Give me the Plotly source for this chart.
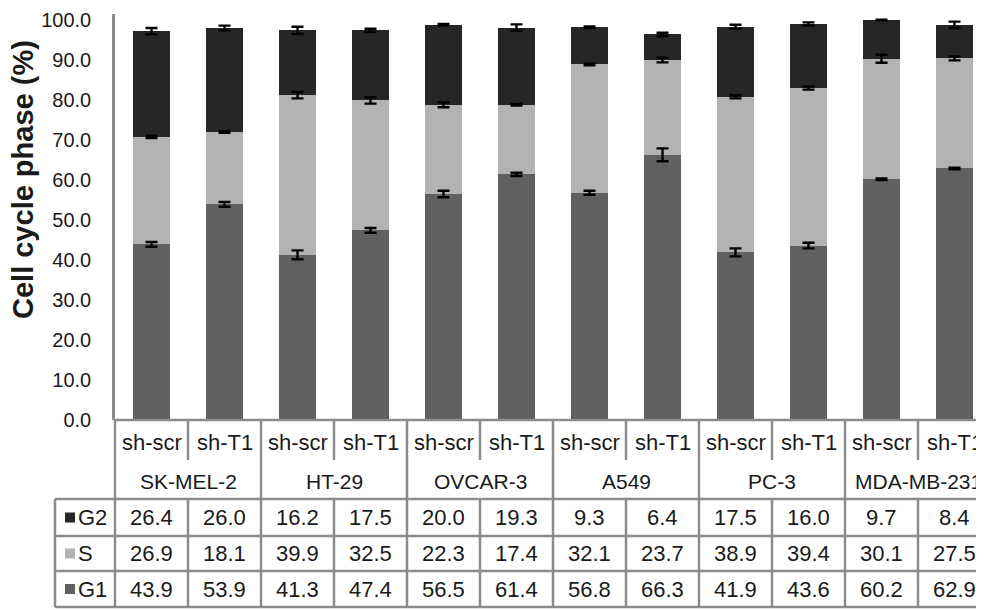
import plotly.graph_objects as go
import numpy as np

# ---------------- data ----------------
cell_lines = ["SK-MEL-2", "HT-29", "OVCAR-3", "A549", "PC-3", "MDA-MB-231"]
conditions = ["sh-scr", "sh-T1"]
phases = ["G2", "S", "G1"]

G1 = [43.9, 53.9, 41.3, 47.4, 56.5, 61.4, 56.8, 66.3, 41.9, 43.6, 60.2, 62.9]
S = [26.9, 18.1, 39.9, 32.5, 22.3, 17.4, 32.1, 23.7, 38.9, 39.4, 30.1, 27.5]
G2 = [26.4, 26.0, 16.2, 17.5, 20.0, 19.3, 9.3, 6.4, 17.5, 16.0, 9.7, 8.4]

G1_err = [0.6, 0.6, 1.1, 0.6, 0.8, 0.4, 0.5, 1.6, 1.0, 0.7, 0.2, 0.2]
S_err = [0.3, 0.2, 0.8, 0.8, 0.6, 0.2, 0.2, 0.6, 0.4, 0.4, 1.0, 0.5]
G2_err = [0.8, 0.6, 0.9, 0.4, 0.2, 0.8, 0.2, 0.4, 0.5, 0.4, 0.1, 0.8]

y_ticks = [0, 10, 20, 30, 40, 50, 60, 70, 80, 90, 100]

# ---------------- style / geometry (screen pixels) ----------------
FONT = "Arial, Liberation Sans, sans-serif"
C_G1, C_S, C_G2 = "#606060", "#b3b3b3", "#262626"
GRID = "#8c8c8c"
TXT = "#1a1a1a"

OFF = 8                      # default body margin of the html page
W, H = 984 - OFF, 610 - OFF
X0, X1 = 115, 984            # plot area left/right on screen
Y_TOP, Y_BOT = 14, 420       # plot area top/bottom on screen
Y_MAX = 100 * (Y_BOT - Y_TOP) / 400.0   # 4 px per unit
ML = X0 - OFF
MR = max(0, (OFF + W) - X1)
MT = Y_TOP - OFF
MB = (OFF + H) - Y_BOT
PW = X1 - X0
PH = Y_BOT - Y_TOP
SLOT = 73.0
XMIN = -0.5
XMAX = XMIN + PW / SLOT

n = len(G1)
xs = list(range(n))


def xp(v):  # data x -> paper x
    return (v - XMIN) / (XMAX - XMIN)


def pxx(p):  # screen x -> paper x
    return (p - X0) / PW


def pxy(p):  # screen y -> paper y
    return (Y_BOT - p) / PH


fig = go.Figure()
for name, vals, col in [("G1", G1, C_G1), ("S", S, C_S), ("G2", G2, C_G2)]:
    fig.add_trace(go.Bar(x=xs, y=vals, name=name, marker=dict(color=col, line=dict(width=0)),
                         width=0.51, showlegend=False, hoverinfo="skip"))

# error bars drawn on top of the stacked segments
cum = np.zeros(n)
for vals, errs in [(G1, G1_err), (S, S_err), (G2, G2_err)]:
    cum = cum + np.array(vals)
    fig.add_trace(go.Scatter(x=xs, y=cum.round(2).tolist(), mode="markers",
                             marker=dict(size=1, color="rgba(0,0,0,0)"),
                             error_y=dict(type="data", array=errs, visible=True,
                                          color="black", thickness=2.4, width=6),
                             showlegend=False, hoverinfo="skip"))

fig.update_layout(
    barmode="stack",
    width=W, height=H,
    margin=dict(l=ML, r=MR, t=MT, b=MB, pad=0, autoexpand=False),
    plot_bgcolor="white", paper_bgcolor="white",
    font=dict(family=FONT, color=TXT),
    xaxis=dict(range=[XMIN, XMAX], showticklabels=False, showgrid=False, zeroline=False,
               showline=False, ticks=""),
    yaxis=dict(range=[0, Y_MAX], tickvals=y_ticks, ticktext=[f"{v:.1f}" for v in y_ticks],
               showgrid=False, zeroline=False, showline=True, linecolor=GRID, linewidth=2.5,
               ticks="outside", ticklen=17, tickcolor="rgba(0,0,0,0)", automargin=False,
               tickfont=dict(size=20, color=TXT, family=FONT)),
)

# y axis title
fig.add_annotation(text="<b>Cell cycle phase (%)</b>", xref="paper", yref="paper",
                   x=pxx(23), y=pxy(180), textangle=-90, showarrow=False,
                   font=dict(size=29, color=TXT, family=FONT), xanchor="center", yanchor="middle")

# ---------------- table ----------------
y_top = 0.0
y_sub = pxy(460)
y_tab = pxy(499)
row_bounds = [pxy(499), pxy(536), pxy(571), pxy(607)]
x_left = pxx(55)
x_right = 1.02

shapes = []


def hline(y, x0, x1):
    shapes.append(dict(type="line", xref="paper", yref="paper", x0=x0, x1=x1, y0=y, y1=y,
                       line=dict(color=GRID, width=2.5), layer="above"))


def vline(x, y0, y1):
    shapes.append(dict(type="line", xref="paper", yref="paper", x0=x, x1=x, y0=y0, y1=y1,
                       line=dict(color=GRID, width=2.5), layer="above"))


hline(y_top, 0, x_right)
for yb in row_bounds:
    hline(yb, x_left, x_right)
vline(x_left, row_bounds[0], row_bounds[-1])
for g in range(len(cell_lines) + 1):
    vline(xp(XMIN + 2 * g), y_top, row_bounds[-1])
for g in range(len(cell_lines)):
    xb = xp(XMIN + 2 * g + 1)
    vline(xb, y_top, y_sub)
    vline(xb, y_tab, row_bounds[-1])

ann_font = dict(size=22, color=TXT, family=FONT)
grp_font = dict(size=21, color=TXT, family=FONT)
for i in range(n):
    fig.add_annotation(text=conditions[i % 2], xref="paper", yref="paper", x=xp(i), y=pxy(442),
                       showarrow=False, font=ann_font, xanchor="center", yanchor="middle")
for g, cl in enumerate(cell_lines):
    fig.add_annotation(text=cl, xref="paper", yref="paper", x=xp(2 * g + 0.5), y=pxy(481),
                       showarrow=False, font=grp_font, xanchor="center", yanchor="middle")

rows = [("G2", G2, C_G2), ("S", S, C_S), ("G1", G1, C_G1)]
for r, (name, vals, col) in enumerate(rows):
    yc = (row_bounds[r] + row_bounds[r + 1]) / 2
    sq = 5.0 / PH
    shapes.append(dict(type="rect", xref="paper", yref="paper", x0=pxx(65), x1=pxx(75),
                       y0=yc - sq, y1=yc + sq, fillcolor=col, line=dict(width=0), layer="above"))
    fig.add_annotation(text=name, xref="paper", yref="paper", x=pxx(76), y=yc, showarrow=False,
                       font=ann_font, xanchor="left", yanchor="middle")
    for i, v in enumerate(vals):
        fig.add_annotation(text=f"{v:.1f}", xref="paper", yref="paper", x=xp(i), y=yc,
                           showarrow=False, font=ann_font, xanchor="center", yanchor="middle")

fig.update_layout(shapes=shapes)

fig.write_html("out.html")
